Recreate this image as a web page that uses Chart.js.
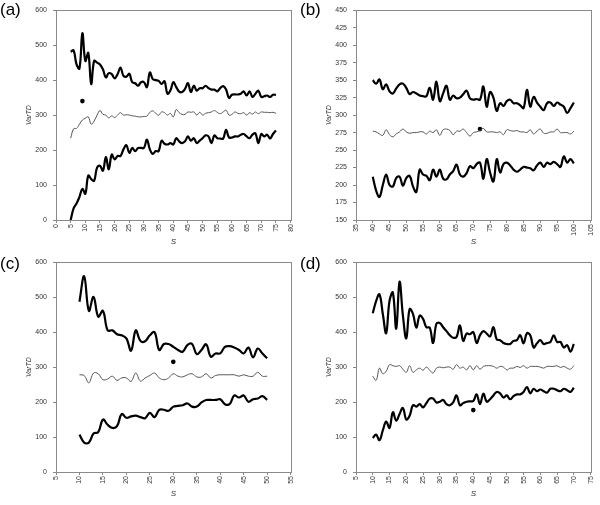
<!DOCTYPE html>
<html>
<head>
<meta charset="utf-8">
<script src="https://cdn.jsdelivr.net/npm/chart.js@4.4.0/dist/chart.umd.min.js"></script>
<style>
  body { margin: 0; background: #fff; width: 600px; height: 505px; position: relative; overflow: hidden; font-family: "Liberation Sans", Arial, sans-serif; }
  .panel { position: absolute; width: 300px; height: 252px; }
  .lbl { position: absolute; font-size: 17px; line-height: 1; color: #000; }
</style>
</head>
<body>
<div class="panel" style="left:0;top:0"><canvas id="chartA" width="300" height="252"></canvas></div>
<div class="panel" style="left:300px;top:0"><canvas id="chartB" width="300" height="252"></canvas></div>
<div class="panel" style="left:0;top:252px"><canvas id="chartC" width="300" height="252"></canvas></div>
<div class="panel" style="left:300px;top:252px"><canvas id="chartD" width="300" height="252"></canvas></div>
<div class="lbl" style="left:0;top:1px">(a)</div>
<div class="lbl" style="left:300px;top:1px">(b)</div>
<div class="lbl" style="left:0;top:255px">(c)</div>
<div class="lbl" style="left:300px;top:255px">(d)</div>
<script>
// panel (a)
const sA = [5,6,7,8,9,10,11,12,13,14,15,16,17,18,19,20,21,22,23,24,25,26,27,28,29,30,31,32,33,34,35,36,37,38,39,40,
  41,42,43,44,45,46,47,48,49,50,51,52,53,54,55,56,57,58,59,60,61,62,63,64,65,66,67,68,69,70,71,72,73,74,75];
const upperA = [481,485,445,433,534,455,478,389,455,450, 445,431,408,420,417,405,417,436,412,410,
  418,394,391,384,394,394,380,422,403,400, 398,389,397,361,370,394,380,367,366,375,
  391,366,384,370,377,377,384,377,373,373, 368,377,383,373,349,358,359,359,361,368,
  356,368,352,361,370,352,354,356,352,358,358];
const midA = [234,261,262,274,286,291,295,274,283,300, 313,302,300,292,298,293,300,307,300,301,
  300,298,297,295,295,296,297,308,312,305, 300,309,307,300,305,295,316,307,302,302,
  309,308,309,300,308,300,305,307,309,313, 308,304,309,314,300,302,309,305,304,307,
  300,307,303,309,304,309,308,308,307,308,305];
const lowerA = [0,33,47,66,89,75,127,117,112,150, 155,141,180,145,187,173,183,183,202,214,
  192,206,197,206,206,206,230,202,189,197, 197,227,218,216,220,216,234,225,220,225,
  239,227,234,220,227,234,242,239,220,242, 234,233,233,258,236,236,239,239,244,246,
  239,234,244,248,220,246,239,244,233,246,256];
const dotA = [{ x: 9, y: 340 }];

// panel (b)
const sB = [40,41,42,43,44,45,46,47,48,49,50,51,52,53,54,55,56,57,58,59,60,61,62,63,64,65,66,67,68,69,70,
  71,72,73,74,75,76,77,78,79,80,81,82,83,84,85,86,87,88,89,90,91,92,93,94,95,96,97,98,99,100];
const upperB = [350,345,351,337,344,334,331,338,344,345, 339,330,333,331,328,327,327,339,322,348,
  320,331,342,322,328,324,325,330,335,324, 322,323,322,341,312,333,325,306,317,313,
  320,322,317,317,314,310,336,312,326,318, 312,307,317,318,313,318,315,312,303,310,318];
const midB = [277,276,273,271,279,272,269,273,276,280, 276,274,275,275,276,276,273,277,275,279,
  271,279,280,278,272,277,277,280,275,270, 275,276,278,281,276,276,276,275,276,272,
  279,278,277,278,276,276,275,279,273,277, 280,274,274,276,276,280,275,275,275,273,277];
const lowerB = [212,192,183,200,215,200,198,210,212,199, 210,213,198,190,222,215,213,207,222,212,
  222,209,208,215,220,229,215,212,217,227, 224,230,232,209,237,218,205,237,218,230,
  232,228,222,219,222,226,225,224,221,228, 232,226,232,230,233,230,226,241,232,237,231];
const dotB = [{ x: 72, y: 280 }];

// panel (c)
const sC = [10,11,12,13,14,15,16,17,18,19,20,21,22,23,24,25,26,27,28,29,30,
  31,32,33,34,35,36,37,38,39,40,41,42,43,44,45,46,47,48,49,50];
const upperC = [487,560,461,501,444,461,405,405,394,391, 382,347,405,375,374,391,400,349,366,366,
  358,349,344,363,366,337,349,365,330,339, 339,358,360,356,349,339,356,328,353,339,325];
const midC = [278,276,255,283,281,264,266,274,262,269, 269,259,283,260,269,276,283,269,264,269,
  281,274,272,278,281,272,272,281,269,276, 278,278,278,278,274,278,274,274,285,274,274];
const lowerC = [107,84,84,110,114,150,135,126,131,166, 155,159,161,157,154,169,157,178,178,175,
  187,189,191,196,187,187,199,206,206,206, 208,194,194,219,213,219,201,208,210,217,206];
const dotC = [{ x: 30, y: 315 }];

// panel (d)
const sD = [10,11,12,13,14,15,16,17,18,19,20,21,22,23,24,25,26,27,28,29,30,31,32,33,34,35,36,37,38,39,40,
  41,42,43,44,45,46,47,48,49,50,51,52,53,54,55,56,57,58,59,60,61,62,63,64,65,66,67,68,69,70];
const upperD = [454,489,508,452,397,489,513,410,544,447, 382,466,452,413,447,438,414,413,369,424,
  426,414,403,391,384,386,419,375,396,394, 400,369,391,403,396,388,414,379,377,369,
  366,366,375,377,391,368,397,391,356,368, 377,366,369,372,391,372,372,356,363,344,366];
const midD = [274,262,297,281,288,307,304,302,304,294, 285,304,285,292,297,291,300,291,283,297,
  300,298,300,300,294,307,297,300,292,304, 292,304,294,302,304,304,302,297,302,300,
  292,297,297,302,299,304,297,302,302,302, 300,297,302,302,302,304,299,302,297,294,304];
const lowerD = [97,107,91,119,144,126,171,147,166,183, 150,161,191,187,194,185,197,210,210,199,
  201,206,194,191,199,219,191,197,201,202, 203,222,194,224,201,208,219,229,225,213,
  219,208,217,222,222,229,243,225,238,231, 236,231,227,238,238,234,231,238,234,229,241];
const dotD = [{ x: 40, y: 177 }];

const FONT = '"Liberation Sans", Arial, sans-serif';

//Plot frame around the chart area
const framePlugin = {
  id: 'frame',
  beforeDatasetsDraw(chart) {
    const { ctx, chartArea: a } = chart;
    ctx.save();
    ctx.strokeStyle = '#8a8a8a';
    ctx.lineWidth = 1;
    ctx.strokeRect(Math.round(a.left) + 0.5, Math.round(a.top) + 0.5,
      Math.round(a.right - a.left), Math.round(a.bottom - a.top));
    ctx.restore();
  }
};

const pts = (xs, ys) => xs.map((x, i) => ({ x: x, y: ys[i] }));

function makePanel(id, s, upper, mid, lower, dot, xMin, xMax, yMin, yMax, yStep) {
  return new Chart(document.getElementById(id), {
    type: 'line',
    plugins: [framePlugin],
    data: {
      datasets: [
        { data: pts(s, upper), borderColor: '#000', borderWidth: 2.2, tension: 0.4, pointRadius: 0 },
        { data: pts(s, mid), borderColor: '#555', borderWidth: 1, tension: 0.4, pointRadius: 0 },
        { data: pts(s, lower), borderColor: '#000', borderWidth: 2.2, tension: 0.4, pointRadius: 0 },
        { data: dot, showLine: false, pointRadius: 2.3, pointBackgroundColor: '#000', pointBorderWidth: 0 }
      ]
    },
    options: {
      responsive: false,
      animation: false,
      layout: { padding: { top: 7, right: 7, left: 0, bottom: 0 } },
      plugins: { legend: { display: false }, tooltip: { enabled: false } },
      scales: {
        x: {
          type: 'linear', min: xMin, max: xMax,
          afterFit: (sc) => { sc.height = 32; },
          ticks: { stepSize: 5, autoSkip: false, minRotation: 90, maxRotation: 90, padding: 1,
            color: '#333', font: { family: FONT, size: 7 } },
          grid: { drawOnChartArea: false, tickLength: 3, color: '#888' },
          border: { display: false },
          title: { display: true, text: 'S', color: '#333', padding: { top: 0, bottom: 5 },
            font: { family: FONT, size: 8, style: 'italic' } }
        },
        y: {
          min: yMin, max: yMax,
          afterFit: (sc) => { sc.width = 56; },
          ticks: { stepSize: yStep, padding: 6, color: '#333', font: { family: FONT, size: 7 } },
          grid: { drawOnChartArea: false, tickLength: 3, color: '#888' },
          border: { display: false },
          title: { display: true, text: 'VarTD', color: '#333', padding: { top: 25, bottom: 0 },
            font: { family: FONT, size: 7, style: 'italic' } }
        }
      }
    }
  });
}

makePanel('chartA', sA, upperA, midA, lowerA, dotA, 0, 80, 0, 600, 100);
makePanel('chartB', sB, upperB, midB, lowerB, dotB, 35, 105, 150, 450, 25);
makePanel('chartC', sC, upperC, midC, lowerC, dotC, 5, 55, 0, 600, 100);
makePanel('chartD', sD, upperD, midD, lowerD, dotD, 5, 75, 0, 600, 100);
</script>
</body>
</html>
